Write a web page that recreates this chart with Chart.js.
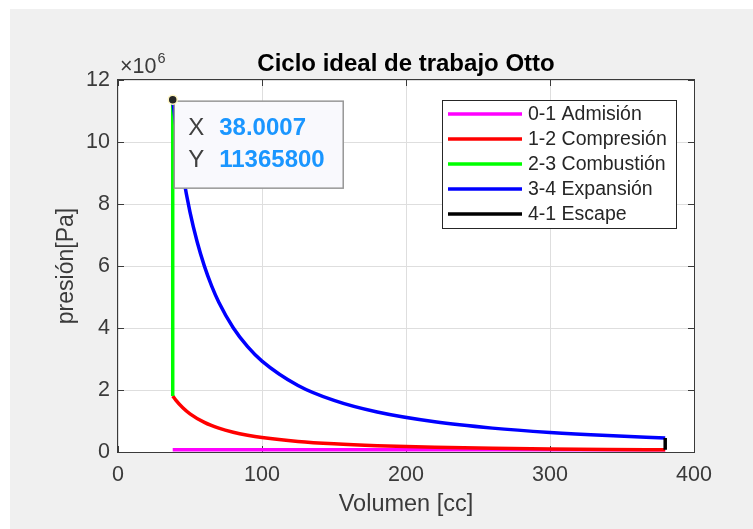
<!DOCTYPE html>
<html>
<head>
<meta charset="utf-8">
<title>Ciclo ideal de trabajo Otto</title>
<script src="https://cdn.jsdelivr.net/npm/chart.js@4/dist/chart.umd.min.js"></script>
<style>
  html, body { margin: 0; padding: 0; background: #ffffff; }
  canvas { display: block; }
</style>
</head>
<body>
<canvas id="otto" width="753" height="529"></canvas>
<script>
// Volume in cc, pressure in Pa for each stage of the cycle
const volAdmision = [38, 380];
const presAdmision = [72000, 72000];

const volCompresion = [38, 40, 45, 50, 60, 70, 80, 90, 100, 125, 150, 180, 220, 260, 300, 340, 380];
const presCompresion = [1808600, 1683300, 1427200, 1231700, 954200, 769000, 637900, 541000, 466800,
                        341500, 264600, 204900, 154800, 122500, 100300, 84100, 72000];

const volCombustion = [38, 38];
const presCombustion = [1808600, 11365800];

const volExpansion = [38, 40, 42, 45, 50, 55, 60, 65, 70, 80, 90, 100, 125, 150, 180, 220, 260, 300, 340, 380];
const presExpansion = [11365800, 10578000, 9880000, 8969000, 7740000, 6773000, 5997000, 5361000, 4833000,
                       4009000, 3400000, 2934000, 2146000, 1663000, 1288000, 973000, 770000, 630000, 529000, 452500];

const volEscape = [380, 380];
const presEscape = [452500, 72000];

const etapas = ['0-1 Admisión', '1-2 Compresión', '2-3 Combustión', '3-4 Expansión', '4-1 Escape'];
const colores = ['#ff00ff', '#ff0000', '#00ff00', '#0000ff', '#000000'];

const ticksVol = [0, 100, 200, 300, 400];
const ticksPres = [0, 2, 4, 6, 8, 10, 12];   // in units of 10^6 Pa

// Data tip on the start of the expansion stroke
const tipVol = 38.0007;
const tipPres = 11365800;

const FONT = "'Liberation Sans', Arial, Helvetica, sans-serif";
const AXIS_COLOR = '#3a3a3a';

function puntos(vs, ps) {
  return vs.map((v, i) => ({ x: v, y: ps[i] }));
}

const series = [
  [volAdmision, presAdmision, false],
  [volCompresion, presCompresion, true],
  [volCombustion, presCombustion, false],
  [volExpansion, presExpansion, true],
  [volEscape, presEscape, false]
];

const datasets = series.map(([vs, ps, curva], i) => ({
  label: etapas[i],
  data: puntos(vs, ps),
  showLine: true,
  borderColor: colores[i],
  backgroundColor: colores[i],
  borderWidth: 3.5,
  pointRadius: 0,
  fill: false,
  cubicInterpolationMode: curva ? 'monotone' : 'default',
  tension: 0,
  // later stages are drawn on top
  order: series.length - 1 - i
}));

const figura = {
  id: 'figura',
  beforeDraw(chart) {
    const { ctx, width, height, chartArea: a } = chart;
    ctx.save();
    ctx.fillStyle = '#ffffff';
    ctx.fillRect(0, 0, width, height);
    ctx.fillStyle = '#f0f0f0';
    ctx.fillRect(10, 9, width - 10, height - 9);
    ctx.fillStyle = '#ffffff';
    ctx.fillRect(a.left, a.top, a.right - a.left, a.bottom - a.top);
    ctx.restore();
  },
  beforeDatasetsDraw(chart) {
    const { ctx, chartArea: a, scales } = chart;
    ctx.save();
    ctx.strokeStyle = AXIS_COLOR;
    ctx.lineWidth = 1;
    // inward tick marks on all four sides
    const t = 6;
    ctx.beginPath();
    ticksVol.forEach(v => {
      const px = Math.round(scales.x.getPixelForValue(v)) + 0.5;
      ctx.moveTo(px, a.bottom); ctx.lineTo(px, a.bottom - t);
      ctx.moveTo(px, a.top); ctx.lineTo(px, a.top + t);
    });
    ticksPres.forEach(v => {
      const py = Math.round(scales.y.getPixelForValue(v * 1e6)) + 0.5;
      ctx.moveTo(a.left, py); ctx.lineTo(a.left + t, py);
      ctx.moveTo(a.right, py); ctx.lineTo(a.right - t, py);
    });
    ctx.stroke();
    // axes box
    ctx.strokeRect(a.left - 0.5, a.top - 0.5, a.right - a.left + 1, a.bottom - a.top + 1);
    ctx.restore();
  },
  afterDraw(chart) {
    const { ctx, chartArea: a, scales } = chart;
    ctx.save();

    // title
    ctx.fillStyle = '#000000';
    ctx.font = 'bold 24px ' + FONT;
    ctx.textAlign = 'center';
    ctx.textBaseline = 'alphabetic';
    ctx.fillText('Ciclo ideal de trabajo Otto', (a.left + a.right) / 2, 71);

    // exponent of the pressure axis
    ctx.fillStyle = AXIS_COLOR;
    ctx.textAlign = 'left';
    ctx.font = '21.5px ' + FONT;
    const base = '×10';
    ctx.fillText(base, a.left + 2, 73);
    const wBase = ctx.measureText(base).width;
    ctx.font = '14.5px ' + FONT;
    ctx.fillText('6', a.left + 2 + wBase + 1, 62.5);

    // legend
    const lw = 234, lh = 128;
    const lx = a.right - 18 - lw, ly = a.top + 20;
    ctx.fillStyle = '#ffffff';
    ctx.fillRect(lx, ly, lw, lh);
    ctx.strokeStyle = '#262626';
    ctx.lineWidth = 1;
    ctx.strokeRect(lx + 0.5, ly + 0.5, lw, lh);
    ctx.font = '19.5px ' + FONT;
    ctx.textBaseline = 'middle';
    chart.data.datasets.forEach((ds, i) => {
      const ry = ly + 14 + i * 25;
      ctx.strokeStyle = ds.borderColor;
      ctx.lineWidth = 3.5;
      ctx.beginPath();
      ctx.moveTo(lx + 6, ry);
      ctx.lineTo(lx + 80, ry);
      ctx.stroke();
      ctx.fillStyle = '#262626';
      ctx.fillText(ds.label, lx + 86, ry + 1);
    });

    // data tip
    const px = scales.x.getPixelForValue(tipVol);
    const py = scales.y.getPixelForValue(tipPres);
    const bx = px + 1.5, by = py + 1.5, bw = 169, bh = 87;
    ctx.fillStyle = '#f9f9fd';
    ctx.fillRect(bx, by, bw, bh);
    ctx.strokeStyle = '#979797';
    ctx.lineWidth = 1.5;
    ctx.strokeRect(bx, by, bw, bh);
    ctx.textBaseline = 'alphabetic';
    ctx.font = '24px ' + FONT;
    ctx.fillStyle = '#404040';
    ctx.fillText('X', bx + 14, by + 34);
    ctx.fillText('Y', bx + 14, by + 65.5);
    ctx.font = 'bold 24px ' + FONT;
    ctx.fillStyle = '#1a96ff';
    ctx.fillText(String(tipVol), bx + 45, by + 34);
    ctx.fillText(String(tipPres), bx + 45, by + 65.5);

    ctx.beginPath();
    ctx.arc(px, py, 4.5, 0, Math.PI * 2);
    ctx.fillStyle = '#262626';
    ctx.fill();
    ctx.strokeStyle = '#fff6c4';
    ctx.lineWidth = 1.5;
    ctx.stroke();

    ctx.restore();
  }
};

new Chart(document.getElementById('otto'), {
  type: 'scatter',
  data: { datasets },
  options: {
    responsive: false,
    devicePixelRatio: 1,
    animation: false,
    events: [],
    layout: { padding: { left: 53, right: 59, top: 80, bottom: 10 } },
    plugins: {
      legend: { display: false },
      tooltip: { enabled: false },
      title: { display: false }
    },
    scales: {
      x: {
        type: 'linear',
        min: 0,
        max: 400,
        afterBuildTicks: s => { s.ticks = ticksVol.map(v => ({ value: v })); },
        afterFit: s => { s.height = 67; },
        border: { display: false },
        grid: { color: '#dedede', lineWidth: 1, drawTicks: false },
        ticks: {
          padding: 10,
          color: AXIS_COLOR,
          autoSkip: false,
          maxRotation: 0,
          font: { family: FONT, size: 21.5 }
        },
        title: {
          display: true,
          text: 'Volumen [cc]',
          color: AXIS_COLOR,
          padding: 0,
          font: { family: FONT, size: 23.5 }
        }
      },
      y: {
        type: 'linear',
        min: 0,
        max: 12e6,
        afterBuildTicks: s => { s.ticks = ticksPres.map(v => ({ value: v * 1e6 })); },
        afterFit: s => { s.width = 65; },
        border: { display: false },
        grid: { color: '#dedede', lineWidth: 1, drawTicks: false },
        ticks: {
          padding: 8,
          color: AXIS_COLOR,
          autoSkip: false,
          font: { family: FONT, size: 21.5 },
          callback: v => String(v / 1e6)
        },
        title: {
          display: true,
          text: 'presión[Pa]',
          color: AXIS_COLOR,
          padding: 0,
          font: { family: FONT, size: 23 }
        }
      }
    }
  },
  plugins: [figura]
});
</script>
</body>
</html>
